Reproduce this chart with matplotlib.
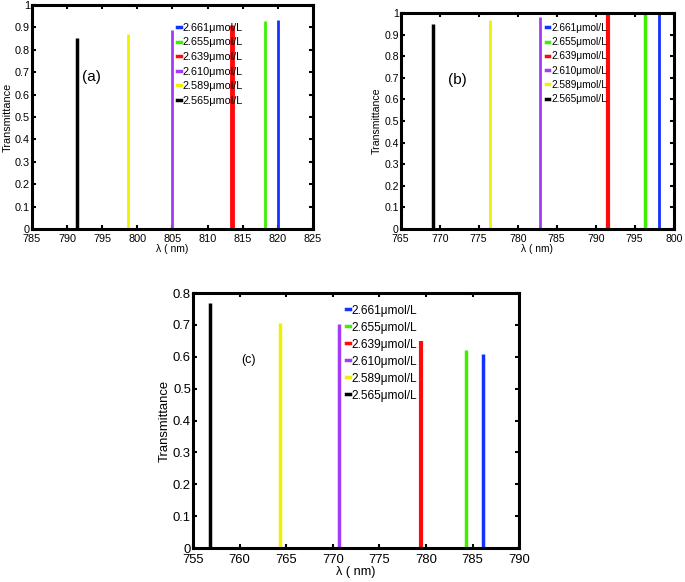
import numpy as np
import matplotlib
matplotlib.use('Agg')
import matplotlib.pyplot as plt
from matplotlib.lines import Line2D

plt.rcParams['font.family'] = ['Liberation Sans', 'DejaVu Sans']

conc_labels = ['2.661\u03bcmol/L', '2.655\u03bcmol/L', '2.639\u03bcmol/L',
               '2.610\u03bcmol/L', '2.589\u03bcmol/L', '2.565\u03bcmol/L']
colors = ['#1432ff', '#3cf000', '#ff0a0a', '#a23cf5', '#eef200', '#000000']

# peak wavelength (nm) and peak transmittance for each concentration
peaks_a = [820.0, 818.2, 813.5, 804.9, 798.7, 791.4]
heights_a = [0.935, 0.928, 0.912, 0.887, 0.872, 0.853]

peaks_b = [798.1, 796.3, 791.6, 782.8, 776.4, 769.1]
heights_b = [1.0, 1.0, 0.997, 0.981, 0.966, 0.951]

peaks_c = [786.1, 784.3, 779.5, 770.7, 764.3, 756.8]
heights_c = [0.610, 0.622, 0.650, 0.703, 0.706, 0.768]


def panel(ax, peaks, heights, xlim, ylim, tag, tag_pos, leg_pos, fs, lfs, tfs,
          widths, xpad=3.5):
    for x, h, c, w in zip(peaks, heights, colors, widths):
        ax.vlines(x, 0, h, color=c, lw=w)
    ax.set_xlim(xlim)
    ax.set_ylim(ylim)
    ax.set_xticks(np.arange(xlim[0], xlim[1] + 1, 5))
    yt = np.arange(0, ylim[1] + 0.001, 0.1).round(1)
    ax.set_yticks(yt)
    ax.set_yticklabels(['%g' % v for v in yt])
    ax.tick_params(direction='in', top=True, right=True, length=3, width=1.5,
                   labelsize=fs)
    ax.tick_params(axis='x', pad=xpad)
    ax.tick_params(axis='y', pad=1.5)
    for s in ax.spines.values():
        s.set_linewidth(2.2)
    ax.set_xlabel('\u03bb ( nm)', fontsize=fs - 0.3, labelpad=0)
    ax.set_ylabel('Transmittance', fontsize=fs, labelpad=1.5)
    ax.text(tag_pos[0], tag_pos[1], tag, transform=ax.transAxes,
            ha='center', va='center', fontsize=tfs)
    handles = [Line2D([], [], color=c, lw=2.5) for c in colors]
    ax.legend(handles, conc_labels, loc='upper left', bbox_to_anchor=leg_pos,
              frameon=False, fontsize=lfs, handlelength=0.35, handletextpad=0.15,
              labelspacing=0.42, borderpad=0, borderaxespad=0)


fig = plt.figure(figsize=(6.85, 5.82), dpi=100)
ax1 = fig.add_axes([0.0467, 0.6065, 0.410, 0.385])
ax2 = fig.add_axes([0.585, 0.6065, 0.3985, 0.371])
ax3 = fig.add_axes([0.2818, 0.0584, 0.476, 0.438])

panel(ax1, peaks_a, heights_a, (785, 825), (0, 1), '(a)', (0.21, 0.68),
      (0.518, 0.92), 7.8, 7.8, 11, [2, 2, 3.5, 2, 2, 2.5])
panel(ax2, peaks_b, heights_b, (765, 800), (0, 1), '(b)', (0.209, 0.69),
      (0.532, 0.955), 7.6, 7.3, 11, [2, 2.5, 3, 2, 2, 2.5])
panel(ax3, peaks_c, heights_c, (755, 790), (0, 0.8), '(c)', (0.169, 0.737),
      (0.468, 0.955), 9.4, 8.6, 9, [2.5, 2.5, 3, 2.5, 2.5, 2.5], xpad=4.5)

fig.savefig('out.png', dpi=100)
